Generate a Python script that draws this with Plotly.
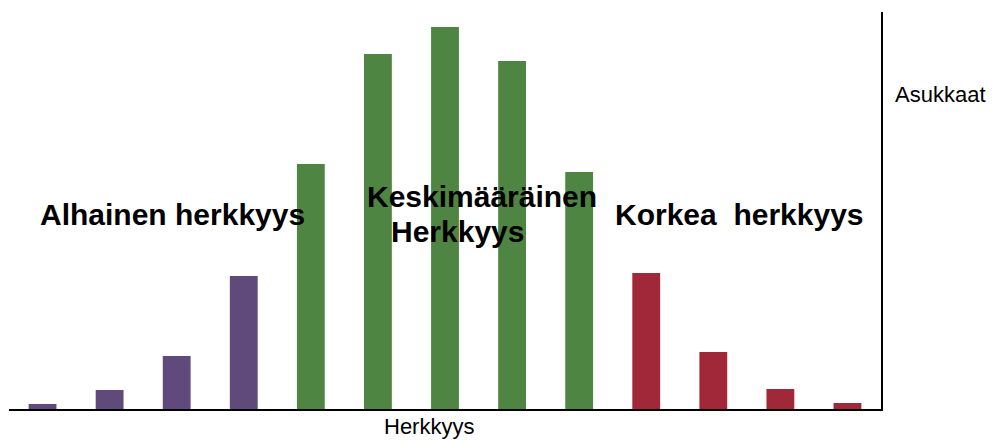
import plotly.graph_objects as go

positions = list(range(13))
low_idx = [0, 1, 2, 3]
mid_idx = [4, 5, 6, 7, 8]
high_idx = [9, 10, 11, 12]
low_vals = [5, 19, 53, 133]
mid_vals = [245, 355, 382, 348, 237]
high_vals = [136, 57, 20, 6]

purple = "#5F4A7B"
green = "#4F8542"
red = "#A12838"

fig = go.Figure()
for xs, ys, c in [(low_idx, low_vals, purple), (mid_idx, mid_vals, green), (high_idx, high_vals, red)]:
    fig.add_trace(go.Bar(x=xs, y=ys, marker=dict(color=c, line=dict(width=0)), width=0.415))

bold = dict(family="Liberation Sans, Arial, sans-serif", size=30, color="black")
reg = dict(family="Liberation Sans, Arial, sans-serif", size=22, color="black")

ann = [
    dict(text="<b>Alhainen herkkyys</b>", x=0.1875, y=0.4887, font=bold),
    dict(text="<b>Keskimääräinen</b>", x=0.543, y=0.5365, font=bold),
    dict(text="<b>Herkkyys</b>", x=0.5143, y=0.4466, font=bold),
    dict(text="<b>Korkea\u00a0 herkkyys</b>", x=0.8383, y=0.4907, font=bold),
    dict(text="Asukkaat", x=1.068, y=0.791, font=reg),
    dict(text="Herkkyys", x=0.4817, y=-0.0453, font=reg),
]
for a in ann:
    fig.add_annotation(xref="paper", yref="paper", xanchor="center", yanchor="middle",
                       showarrow=False, **a)

fig.update_layout(
    width=993, height=440,
    margin=dict(l=9, r=112, t=12, b=31),
    paper_bgcolor="white", plot_bgcolor="white",
    barmode="overlay", showlegend=False,
    xaxis=dict(range=[-0.5, 12.5], showline=True, linecolor="black", linewidth=2,
               showticklabels=False, ticks="", showgrid=False, zeroline=False),
    yaxis=dict(range=[0, 397], side="right", showline=True, linecolor="black", linewidth=2,
               showticklabels=False, ticks="", showgrid=False, zeroline=False),
)

fig.write_html("out.html", config={"displayModeBar": False},
               post_script="document.body.style.margin='0';document.body.style.overflow='hidden';")
